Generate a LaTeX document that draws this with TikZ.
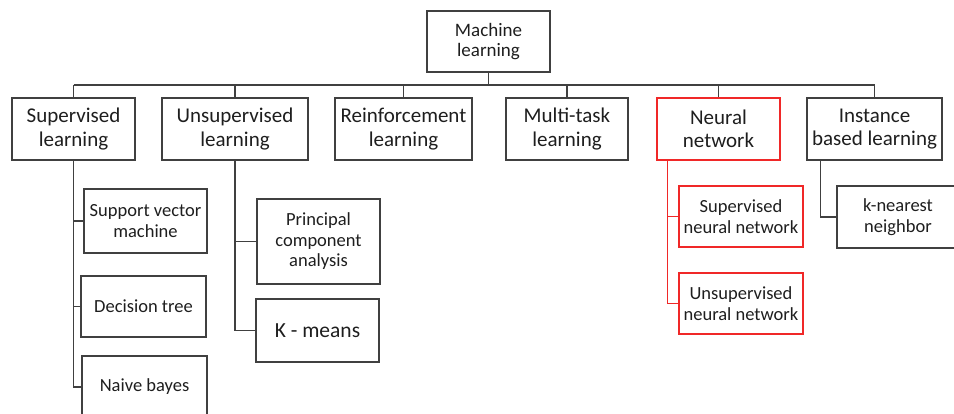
\documentclass[tikz,border=0pt]{standalone}
\usepackage{fontspec}
\setmainfont{Carlito}
\usepackage{tikz}
\usetikzlibrary{positioning}

\definecolor{boxline}{RGB}{64,64,64}
\definecolor{boxtext}{RGB}{30,30,30}
\definecolor{nnred}{RGB}{240,40,40}

\tikzset{
  mlbox/.style={draw=boxline, line width=1.3pt, text=boxtext, inner sep=0pt, align=center},
  topbox/.style={mlbox, font=\fontsize{21}{23.5}\selectfont, minimum height=62pt},
  leafbox/.style={mlbox, font=\fontsize{18.5}{20.5}\selectfont},
  redbox/.style={draw=nnred},
  link/.style={draw=boxline, line width=1.3pt},
  redlink/.style={draw=nnred, line width=1.3pt}
}

\begin{document}
\begin{tikzpicture}[x=1pt,y=1pt,yscale=-1]
    \useasboundingbox (0,0) rectangle (954,414);
    \clip (0,0) rectangle (954,414);

    %Box: root
    \node [leafbox, font=\fontsize{19}{20.5}\selectfont, minimum width=123pt, minimum height=61pt] (ml) at (488.5,41.5) {Machine\\learning};

    %Boxes: first row
    \node [topbox, minimum width=123pt] (sup) at (73.5,129) {Supervised\\learning};
    \node [topbox, minimum width=146pt] (uns) at (235,129) {Unsupervised\\learning};
    \node [topbox, minimum width=137pt] (rei) at (403.5,129) {Reinforcement\\learning};
    \node [topbox, minimum width=122pt] (mul) at (567,129) {Multi-task\\learning};
    \node [topbox, redbox, minimum width=123pt] (nn) at (718.5,129) {Neural\\network};
    \node [topbox, minimum width=135pt] (ins) at (874.5,129) {Instance\\based learning};

    %Boxes: supervised
    \node [leafbox, minimum width=123pt, minimum height=64pt] (svm) at (145.5,221) {Support vector\\machine};
    \node [leafbox, minimum width=125pt, minimum height=61pt] (dt) at (143.5,306.5) {Decision tree};
    \node [leafbox, minimum width=125pt, minimum height=62pt] (nb) at (144.5,387) {Naive bayes};

    %Boxes: unsupervised
    \node [leafbox, minimum width=123pt, minimum height=85pt] (pca) at (318.5,241.5) {Principal\\component\\analysis};
    \node [leafbox, font=\fontsize{21.5}{23}\selectfont, minimum width=123pt, minimum height=63pt] (km) at (317.5,330.5) {K - means};

    %Boxes: neural network
    \node [leafbox, redbox, minimum width=124pt, minimum height=61pt] (snn) at (741,216.5) {Supervised\\neural network};
    \node [leafbox, redbox, minimum width=124pt, minimum height=61pt] (unn) at (741,303.5) {Unsupervised\\neural network};

    %Boxes: instance based
    \node [leafbox, minimum width=122pt, minimum height=62pt] (knn) at (898,217) {k-nearest\\neighbor};

    %Lines: root to first row
    \coordinate (bar) at (488,85);
    \draw [link] (ml.south) -- (ml.south |- bar);
    \draw [link] (sup.north |- bar) -- (ins.north |- bar);
    \foreach \b in {sup,uns,rei,mul,nn,ins}
        \draw [link] (\b.north) -- (\b.north |- bar);

    %Lines: leaves
    \draw [link] (sup.south) |- (svm.west);
    \draw [link] (sup.south) |- (dt.west);
    \draw [link] (sup.south) |- (nb.west);
    \draw [link] (uns.south) |- (pca.west);
    \draw [link] (uns.south) |- (km.west);
    \coordinate (nnroot) at ([xshift=11pt]nn.south west);
    \draw [redlink] (nnroot) |- (snn.west);
    \draw [redlink] (nnroot) |- (unn.west);
    \coordinate (insroot) at ([xshift=14pt]ins.south west);
    \draw [link] (insroot) |- (knn.west);

\end{tikzpicture}
\end{document}
